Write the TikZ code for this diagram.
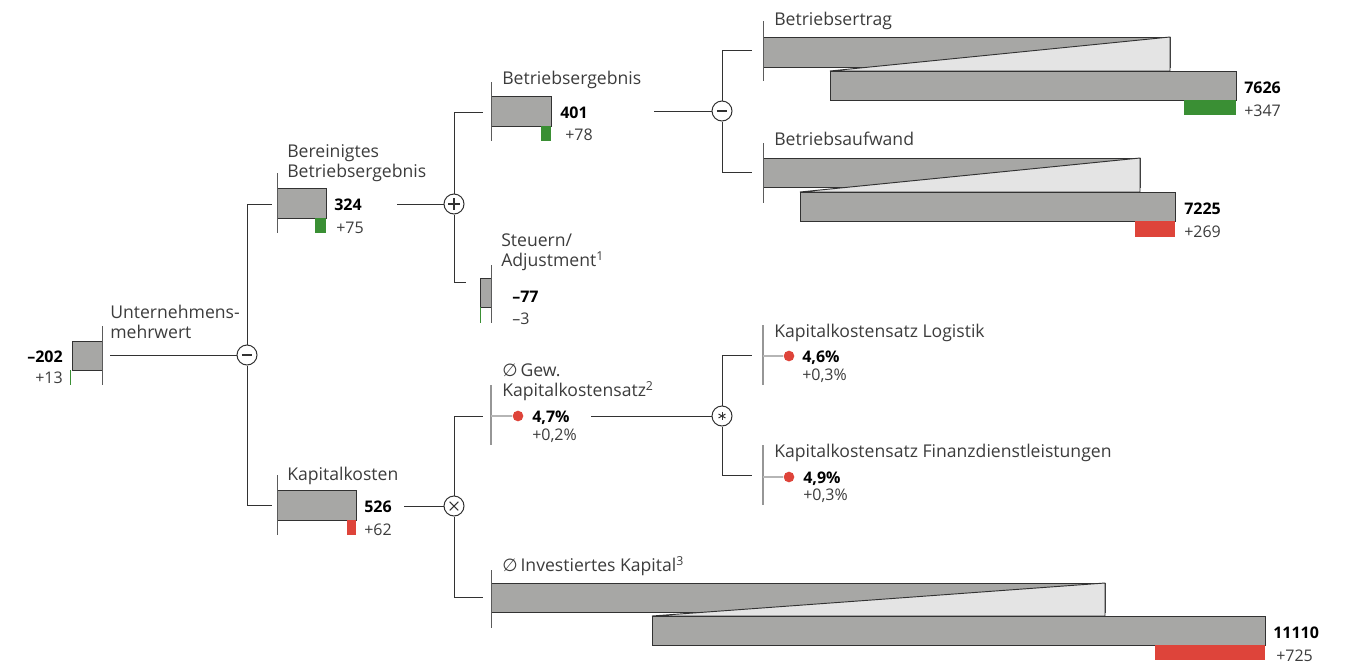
\documentclass[tikz,border=0pt]{standalone}
\usepackage{fontspec}
\setmainfont{Open Sans}
\newfontfamily\symfont{DejaVu Sans}
\usetikzlibrary{positioning}
\definecolor{barc}{RGB}{167,167,165}
\definecolor{lightc}{RGB}{228,228,228}
\definecolor{greenc}{RGB}{58,143,52}
\definecolor{redc}{RGB}{222,68,58}
\definecolor{linec}{RGB}{50,50,50}
\definecolor{txtc}{RGB}{60,60,60}
\definecolor{axisc}{RGB}{150,150,150}
\newcommand{\avg}{{\symfont\char"2205}\,}
\begin{document}
\begin{tikzpicture}[x=0.75pt,y=-0.75pt,
    font=\fontsize{12}{14.25}\selectfont,text=txtc,
    link/.style={draw=linec,line width=0.75pt},
    axis/.style={draw=linec!80,line width=0.75pt},
    rateaxis/.style={draw=axisc,line width=1.4pt},
    stem/.style={draw=axisc!70,line width=2pt},
    bar/.style={fill=barc,draw=linec,line width=0.7pt},
    wedge/.style={fill=lightc,draw=linec,line width=0.7pt},
    dot/.style={circle,fill=redc,minimum size=8pt,inner sep=0pt},
    op/.style={circle,draw=linec,fill=white,line width=0.75pt,minimum size=15pt,inner sep=0pt},
    opminus/.style={op,path picture={\draw[line width=1.5pt] ([xshift=-3.8pt]path picture bounding box.center) -- ([xshift=3.8pt]path picture bounding box.center);}},
    opplus/.style={op,path picture={\draw[line width=0.8pt] ([xshift=-4.2pt]path picture bounding box.center) -- ([xshift=4.2pt]path picture bounding box.center)
        ([yshift=-4.2pt]path picture bounding box.center) -- ([yshift=4.2pt]path picture bounding box.center);}},
    optimes/.style={op,path picture={\draw[line width=0.8pt] ([shift={(-3.2pt,-3.2pt)}]path picture bounding box.center) -- ([shift={(3.2pt,3.2pt)}]path picture bounding box.center)
        ([shift={(-3.2pt,3.2pt)}]path picture bounding box.center) -- ([shift={(3.2pt,-3.2pt)}]path picture bounding box.center);}},
    opstar/.style={op,path picture={\foreach \a in {90,30,150}
        \draw[line width=0.7pt] ([shift={(\a:3pt)}]path picture bounding box.center) -- ([shift={(\a+180:3pt)}]path picture bounding box.center);}},
    lbl/.style={anchor=base west,inner sep=0pt,align=left,font=\fontsize{13.2}{14.6}\selectfont},
    val/.style={anchor=base west,inner sep=0pt,text=black,font=\fontsize{12}{14.25}\selectfont\bfseries},
    dlt/.style={anchor=base west,inner sep=0pt}]
\useasboundingbox (0,0) rectangle (1354,665);

% operators
\node [opminus] (mw)   at (247,355) {};
\node [opplus]  (ergb) at (454,204) {};
\node [opminus] (erg)  at (722,111) {};
\node [optimes] (kap)  at (454,506) {};
\node [opstar]  (satz) at (722,416) {};

% branch ends
\coordinate (mw-out)    at (110,355);
\coordinate (ergb-in)   at (272,204);
\coordinate (ergb-out)  at (397,204);
\coordinate (kap-in)    at (272,505);
\coordinate (kap-out)   at (404,506);
\coordinate (erg-in)    at (483,112);
\coordinate (erg-out)   at (654,111);
\coordinate (steuer-in) at (466,282);
\coordinate (ertrag-in) at (752,50);
\coordinate (aufw-in)   at (752,172);
\coordinate (satz-in)   at (483,416);
\coordinate (satz-out)  at (591,416);
\coordinate (inv-in)    at (483,597);
\coordinate (log-in)    at (752,355);
\coordinate (fin-in)    at (752,475);

% connectors
\path [link] (mw-out) -- (mw)
    (mw) |- (ergb-in)
    (mw) |- (kap-in);
\path [link] (ergb-out) -- (ergb)
    (ergb) |- (erg-in)
    (ergb) |- (steuer-in);
\path [link] (erg-out) -- (erg)
    (erg) |- (ertrag-in)
    (erg) |- (aufw-in);
\path [link] (kap-out) -- (kap)
    (kap) |- (satz-in)
    (kap) |- (inv-in);
\path [link] (satz-out) -- (satz)
    (satz) |- (log-in)
    (satz) |- (fin-in);

% Unternehmensmehrwert
\draw [bar] (72,341) rectangle (102,370);
\draw [draw=greenc,line width=1.2pt] (70.5,370) -- (70.5,385);
\draw [axis] (102,326) -- (102,385);
\node [lbl] (mw-lbl) at (110,338) {Unternehmens-\\mehrwert};
\node [val,anchor=base east] (mw-val) at (63,362) {\textendash202};
\node [dlt,anchor=base east] (mw-dlt) at (63,383) {+13};

% Bereinigtes Betriebsergebnis
\draw [bar] (277,188) rectangle (326,218);
\fill [greenc] (315,218) rectangle (326,233);
\draw [axis] (277,173) -- (277,233);
\node [lbl] (ergb-lbl) at (287,177) {Bereinigtes\\Betriebsergebnis};
\node [val] (ergb-val) at (334,210) {324};
\node [dlt] (ergb-dlt) at (336,233) {+75};

% Betriebsergebnis
\draw [bar] (491,96) rectangle (551,126);
\fill [greenc] (541,126) rectangle (551,141);
\draw [axis] (491,82) -- (491,141);
\node [lbl] (erg-lbl) at (502,84) {Betriebsergebnis};
\node [val] (erg-val) at (560,118) {401};
\node [dlt] (erg-dlt) at (565,140) {+78};

% Steuern/Adjustment
\draw [bar] (480,278) rectangle (491,307);
\draw [draw=greenc,line width=0.9pt] (480.5,307) -- (480.5,323);
\draw [axis] (491,265) -- (491,323);
\node [lbl] (steuer-lbl) at (501,266) {Steuern/\\Adjustment\textsuperscript{1}};
\node [val] (steuer-val) at (512,302) {\textendash77};
\node [dlt] (steuer-dlt) at (512,324) {\textendash3};

% Kapitalkosten
\draw [bar] (277,490) rectangle (356,520);
\fill [redc] (347,520) rectangle (356,535);
\draw [axis] (277,475) -- (277,535);
\node [lbl] (kap-lbl) at (287,480) {Kapitalkosten};
\node [val] (kap-val) at (364,512) {526};
\node [dlt] (kap-dlt) at (364,535) {+62};

% Betriebsertrag
\draw [bar] (763,37) rectangle (1170,67);
\draw [wedge] (830,71) -- (1170,37) -- (1170,71) -- cycle;
\draw [bar] (830,71) rectangle (1236,100);
\fill [greenc] (1184,100) rectangle (1236,115);
\draw [axis] (763,21) -- (763,81);
\node [lbl] (ertrag-lbl) at (774,25) {Betriebsertrag};
\node [val] (ertrag-val) at (1244,93) {7626};
\node [dlt] (ertrag-dlt) at (1244,116) {+347};

% Betriebsaufwand
\draw [bar] (763,158) rectangle (1140,187);
\draw [wedge] (800,192) -- (1140,158) -- (1140,192) -- cycle;
\draw [bar] (800,192) rectangle (1175,221);
\fill [redc] (1135,221) rectangle (1175,237);
\draw [axis] (763,143) -- (763,203);
\node [lbl] (aufw-lbl) at (774,145) {Betriebsaufwand};
\node [val] (aufw-val) at (1184,214) {7225};
\node [dlt] (aufw-dlt) at (1184,237) {+269};

% Gew. Kapitalkostensatz
\draw [rateaxis] (491,385) -- (491,445);
\coordinate (satz-ax) at (491,416);
\node [dot] (satz-dot) at (518,416) {};
\draw [stem] (satz-ax) -- (satz-dot);
\node [lbl] (satz-lbl) at (502,396) {\avg Gew.\\Kapitalkostensatz\textsuperscript{2}};
\node [val] (satz-val) at (532,422) {4,7\%};
\node [dlt] (satz-dlt) at (532,440) {+0,2\%};

% Kapitalkostensatz Logistik
\draw [rateaxis] (763,325) -- (763,385);
\coordinate (log-ax) at (763,356);
\node [dot] (log-dot) at (789,356) {};
\draw [stem] (log-ax) -- (log-dot);
\node [lbl] (log-lbl) at (774,337) {Kapitalkostensatz Logistik};
\node [val] (log-val) at (802,362) {4,6\%};
\node [dlt] (log-dlt) at (802,380) {+0,3\%};

% Kapitalkostensatz Finanzdienstleistungen
\draw [rateaxis] (763,445) -- (763,505);
\coordinate (fin-ax) at (763,477);
\node [dot] (fin-dot) at (789,477) {};
\draw [stem] (fin-ax) -- (fin-dot);
\node [lbl] (fin-lbl) at (774,457) {Kapitalkostensatz Finanzdienstleistungen};
\node [val] (fin-val) at (803,483) {4,9\%};
\node [dlt] (fin-dlt) at (803,500) {+0,3\%};

% Investiertes Kapital
\draw [bar] (491,583) rectangle (1105,612);
\draw [wedge] (652,616) -- (1105,583) -- (1105,616) -- cycle;
\draw [bar] (652,616) rectangle (1265,645);
\fill [redc] (1155,645) rectangle (1265,660);
\draw [axis] (491,570) -- (491,628);
\node [lbl] (inv-lbl) at (502,571) {\avg Investiertes Kapital\textsuperscript{3}};
\node [val] (inv-val) at (1273,638) {11110};
\node [dlt] (inv-dlt) at (1276,661) {+725};
\end{tikzpicture}
\end{document}
